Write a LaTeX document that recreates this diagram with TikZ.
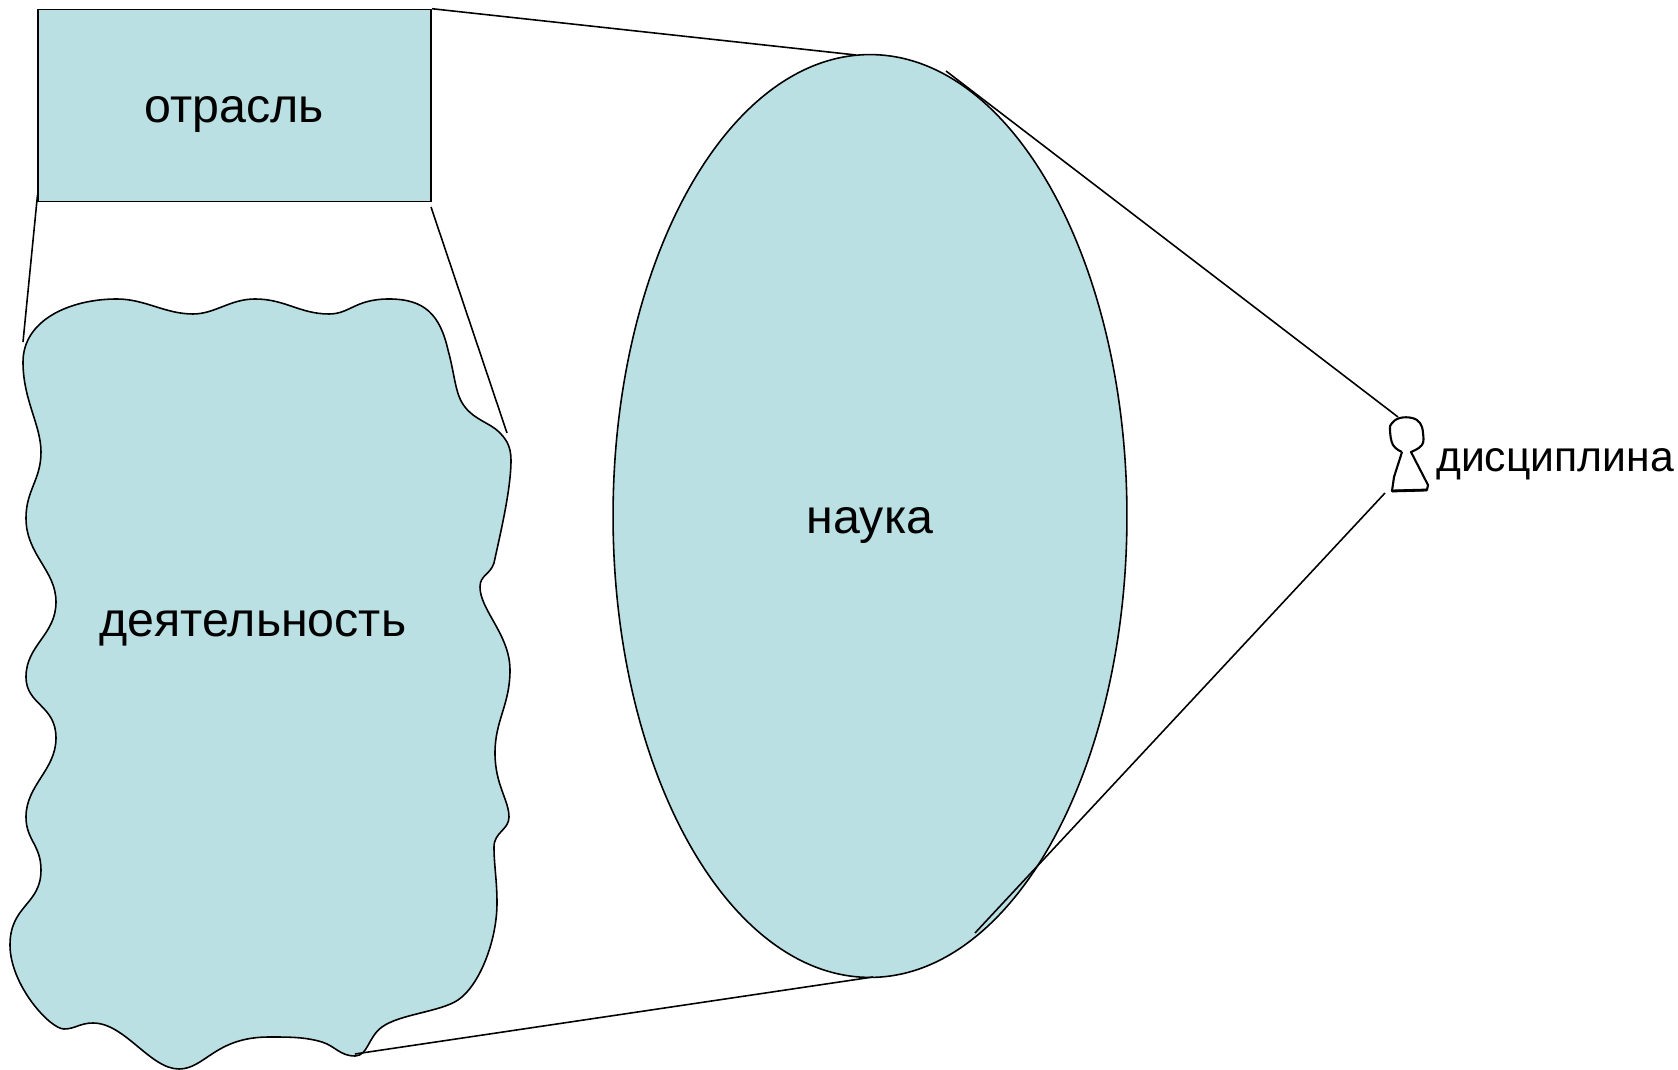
\documentclass[tikz,border=0pt]{standalone}
\usepackage{fontspec}
\setmainfont{Liberation Sans}
\usepackage{xcolor}
\usetikzlibrary{shapes.geometric}
\definecolor{fillblue}{HTML}{BAE0E3}
\tikzset{
  body/.style={draw=black, fill=fillblue, line width=0.9pt},
  link/.style={draw=black, line width=0.9pt},
  lab/.style={text=black, font=\fontsize{27.5}{32}\selectfont, text height=0.9cm, text depth=0.2cm},
  labs/.style={text=black, font=\fontsize{24.3}{28}\selectfont},
  man/.style={draw=black, line width=1.2pt, line join=round},
}

\begin{document}
\begin{tikzpicture}[x=0.02cm,y=-0.02cm]
  \useasboundingbox (0,0) rectangle (1678,1070);

  % activity blob
  \draw[body] (23,362) .. controls (23,400) and (41,425) .. (41,452)
    .. controls (41,480) and (26,490) .. (26,518)
    .. controls (26,555) and (56,570) .. (56,602)
    .. controls (56,635) and (26,645) .. (26,677)
    .. controls (26,705) and (56,705) .. (56,738)
    .. controls (56,770) and (26,785) .. (26,817)
    .. controls (26,840) and (41,845) .. (41,870)
    .. controls (41,905) and (10,905) .. (10,945)
    .. controls (10,985) and (50,1029) .. (64,1029)
    .. controls (75,1029) and (80,1023) .. (93,1023)
    .. controls (125,1023) and (150,1069) .. (179,1069)
    .. controls (205,1069) and (215,1037) .. (269,1037)
    .. controls (290,1037) and (305,1037) .. (322,1042)
    .. controls (335,1046) and (340,1056) .. (355,1056)
    .. controls (368,1056) and (368,1037) .. (382,1027)
    .. controls (400,1014) and (440,1012) .. (458,1000)
    .. controls (480,985) and (497,940) .. (497,903)
    .. controls (497,880) and (494,865) .. (494,847)
    .. controls (494,832) and (509,830) .. (509,817)
    .. controls (509,800) and (495,785) .. (495,753)
    .. controls (495,720) and (510,705) .. (510,670)
    .. controls (510,635) and (480,610) .. (480,587)
    .. controls (480,575) and (490,575) .. (494,563)
    .. controls (500,535) and (511,490) .. (511,460)
    .. controls (511,445) and (505,438) .. (499,432)
    .. controls (490,423) and (475,420) .. (465,407)
    .. controls (455,395) and (455,375) .. (448,350)
    .. controls (440,315) and (425,299) .. (389,299)
    .. controls (355,299) and (350,314) .. (329,314)
    .. controls (300,314) and (285,299) .. (255,299)
    .. controls (230,299) and (215,314) .. (193,314)
    .. controls (165,314) and (145,299) .. (117,299)
    .. controls (70,299) and (23,320) .. (23,362) -- cycle;
  \node[lab] (activity) at (253,619) {деятельность};

  \node[body, lab, minimum width=7.87cm, minimum height=3.84cm, inner sep=0pt] (branch) at (234.5,105.5) {отрасль};
  \node[body, lab, ellipse, minimum width=10.28cm, minimum height=18.46cm, inner sep=0pt] (science) at (870,516) {наука};

  % little man
  \draw[man] plot[smooth, tension=0.7] coordinates {
    (1402,452) (1393,445) (1390,430) (1392,423) (1400,418) (1412,418)
    (1420,423) (1423,433) (1422,445) (1411,452)}
    -- (1428,485) -- (1427,490) -- (1392,491) -- (1394,477) -- (1402,452);
  \draw[man, line width=1.6pt] (1392,491) -- (1427,490);
  \node[labs, anchor=west] (discipline) at (1430,464) {дисциплина};

  \coordinate (s1) at (856,55);
  \coordinate (s2) at (946,71);
  \coordinate (s3) at (975,933);
  \coordinate (s4) at (873,977);
  \coordinate (a1) at (23,342);
  \coordinate (a2) at (507,433);
  \coordinate (a3) at (355,1054);
  \coordinate (b1) at (37.5,195);
  \coordinate (b2) at (431,207);
  \coordinate (m1) at (1398,417);
  \coordinate (m2) at (1385,493);

  \draw[link] (branch.north east) -- (s1);
  \draw[link] (b1) -- (a1);
  \draw[link] (b2) -- (a2);
  \draw[link] (a3) -- (s4);
  \draw[link] (s2) -- (m1);
  \draw[link] (m2) -- (s3);
\end{tikzpicture}
\end{document}
